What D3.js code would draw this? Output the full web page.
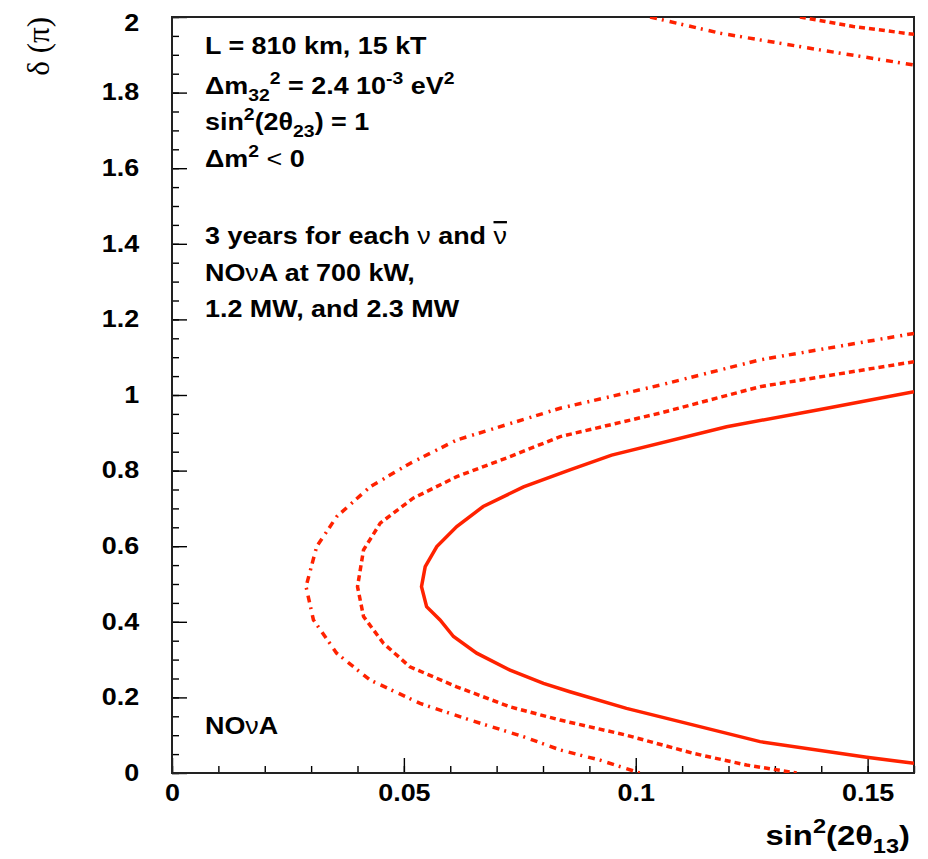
<!DOCTYPE html>
<html>
<head>
<meta charset="utf-8">
<script src="https://cdn.jsdelivr.net/npm/d3@7"></script>
<style>
  body { margin: 0; background: #fff; }
  text { font-family: 'Liberation Sans', Arial, sans-serif; font-weight: bold; fill: #000; }
</style>
</head>
<body>
<script>
//////////////////////////////////////////////////////////////////////////////
// Data: sin^2(2theta13) vs delta (in units of pi)
//////////////////////////////////////////////////////////////////////////////
let xTicks = [0, 0.05, 0.1, 0.15]
let xTickLabels = ['0', '0.05', '0.1', '0.15']
let yTicks = [0, 0.2, 0.4, 0.6, 0.8, 1, 1.2, 1.4, 1.6, 1.8, 2]
let yTickLabels = ['0', '0.2', '0.4', '0.6', '0.8', '1', '1.2', '1.4', '1.6', '1.8', '2']

// 700 kW contour (solid)
let curve700kW = [
  [0.16, 1.009], [0.1412, 0.965], [0.1196, 0.916], [0.0948, 0.841], [0.0858, 0.802],
  [0.0758, 0.757], [0.0671, 0.705], [0.0614, 0.652], [0.0571, 0.599], [0.0546, 0.546],
  [0.0538, 0.493], [0.0549, 0.44], [0.0578, 0.405], [0.0607, 0.361], [0.0657, 0.317],
  [0.0729, 0.272], [0.0801, 0.237], [0.0858, 0.215], [0.098, 0.171], [0.1095, 0.136],
  [0.1268, 0.083], [0.1498, 0.0415], [0.16, 0.0256]
]
// 1.2 MW contour (dashed), plus the piece that wraps round at delta = 2
let curve1200kW = [
  [0.16, 1.088], [0.1268, 1.022], [0.1052, 0.952], [0.0837, 0.89], [0.0729, 0.837],
  [0.0614, 0.784], [0.052, 0.727], [0.0449, 0.661], [0.0413, 0.59], [0.04, 0.493],
  [0.0413, 0.414], [0.0456, 0.343], [0.0513, 0.281], [0.0614, 0.228], [0.0729, 0.175],
  [0.0837, 0.14], [0.098, 0.1], [0.1124, 0.052], [0.1239, 0.021], [0.1347, 0]
]
let curve1200kWTop = [[0.1354, 2], [0.1469, 1.975], [0.16, 1.954]]
// 2.3 MW contour (dash-dot), plus the wrapped piece
let curve2300kW = [
  [0.16, 1.163], [0.1268, 1.093], [0.1052, 1.026], [0.0837, 0.965], [0.0614, 0.881],
  [0.0513, 0.819], [0.0427, 0.757], [0.0355, 0.678], [0.0312, 0.599], [0.0289, 0.493],
  [0.0305, 0.405], [0.0355, 0.317], [0.0427, 0.246], [0.0535, 0.184], [0.0643, 0.14],
  [0.0758, 0.096], [0.0837, 0.061], [0.0923, 0.034], [0.1009, 0]
]
let curve2300kWTop = [[0.1031, 2], [0.1182, 1.957], [0.1397, 1.913], [0.16, 1.873]]

// text block, each line is a list of [text, 'sup' | 'sub' | 'sym' | 'bar' | '']
let infoLines = [
  [['L = 810 km, 15 kT', '']],
  [['Δm', ''], ['32', 'sub'], ['2', 'sup'], [' = 2.4 10', ''], ['-3', 'sup'], [' eV', ''], ['2', 'sup']],
  [['sin', ''], ['2', 'sup'], ['(2θ', ''], ['23', 'sub'], [') = 1', '']],
  [['Δm', ''], ['2', 'sup'], [' ', ''], ['<', 'sym'], [' 0', '']],
  [],
  [['3 years for each ', ''], ['ν', 'sym'], [' and ', ''], ['ν', 'bar']],
  [['NO', ''], ['ν', 'sym'], ['A at 700 kW,', '']],
  [['1.2 MW, and 2.3 MW', '']]
]
let infoBaselines = [54, 94, 130, 167, 205, 244, 281, 317]

//////////////////////////////////////////////////////////////////////////////
// Layout
//////////////////////////////////////////////////////////////////////////////
let width = 928
let height = 859
let plotLeft = 172
let plotRight = 914
let plotTop = 17
let plotBottom = 773
let stretch = 1.17 // the fonts in the picture are drawn a bit wide
let fontSize = 23
let red = '#ff2200'

let svg = d3
  .select('body')
  .append('svg')
  .attr('width', width)
  .attr('height', height)

let x = d3.scaleLinear().domain([0, 0.16]).range([plotLeft, plotRight])
let y = d3.scaleLinear().domain([0, 2]).range([plotBottom, plotTop])

// minor ticks first, then major ones with labels (ticks point inward)
svg
  .append('g')
  .attr('transform', `translate(0,${plotBottom})`)
  .call(d3.axisBottom(x).tickValues(d3.range(0, 0.161, 0.01)).tickSize(-7).tickFormat(''))
svg
  .append('g')
  .attr('transform', `translate(${plotLeft},0)`)
  .call(d3.axisLeft(y).tickValues(d3.range(0, 2.01, 0.05)).tickSize(-7).tickFormat(''))

let xAxis = svg
  .append('g')
  .attr('class', 'xaxis')
  .attr('transform', `translate(0,${plotBottom})`)
  .call(d3.axisBottom(x).tickValues(xTicks).tickSize(-15).tickPadding(12).tickFormat((d, i) => xTickLabels[i]))
let yAxis = svg
  .append('g')
  .attr('class', 'yaxis')
  .attr('transform', `translate(${plotLeft},0)`)
  .call(d3.axisLeft(y).tickValues(yTicks).tickSize(-15).tickPadding(28).tickFormat((d, i) => yTickLabels[i]))

svg.selectAll('.domain').remove()
svg.selectAll('.tick line').attr('stroke', '#000').attr('stroke-width', 1.4)
svg
  .selectAll('.xaxis text, .yaxis text')
  .style('font-size', fontSize + 'px')
  .style('font-family', "'Liberation Sans', Arial, sans-serif")
  .style('font-weight', 'bold')
  .attr('transform', `scale(${stretch},1)`)
// the top label sits a little lower in the picture
yAxis.selectAll('.tick text').filter(d => d === 2).attr('dy', '0.6em')

// frame
svg
  .append('rect')
  .attr('x', plotLeft)
  .attr('y', plotTop)
  .attr('width', plotRight - plotLeft)
  .attr('height', plotBottom - plotTop)
  .attr('fill', 'none')
  .attr('stroke', '#222')
  .attr('stroke-width', 2)

// contours, clipped to the frame
svg
  .append('clipPath')
  .attr('id', 'plot-clip')
  .append('rect')
  .attr('x', plotLeft)
  .attr('y', plotTop)
  .attr('width', plotRight - plotLeft)
  .attr('height', plotBottom - plotTop)

let line = d3
  .line()
  .x(d => x(d[0]))
  .y(d => y(d[1]))

let curves = [
  { pts: curve700kW, dash: null },
  { pts: curve1200kW, dash: '6,4' },
  { pts: curve1200kWTop, dash: '6,4' },
  { pts: curve2300kW, dash: '7,5,2,6' },
  { pts: curve2300kWTop, dash: '7,5,2,6' }
]
svg
  .append('g')
  .attr('clip-path', 'url(#plot-clip)')
  .selectAll('path')
  .data(curves)
  .join('path')
  .attr('d', d => line(d.pts))
  .attr('fill', 'none')
  .attr('stroke', red)
  .attr('stroke-width', 3.5)
  .attr('stroke-dasharray', d => d.dash)

//////////////////////////////////////////////////////////////////////////////
// Text with super/subscripts
function richText (parts, tx, ty, size, anchor) {
  let t = svg
    .append('text')
    .attr('transform', `translate(${tx},${ty}) scale(${stretch},1)`)
    .attr('text-anchor', anchor || 'start')
    .style('font-size', size + 'px')
  let cur = 0
  parts.forEach(p => {
    let shift = p[1] === 'sup' ? -0.42 * size : p[1] === 'sub' ? 0.3 * size : 0
    let ts = t
      .append('tspan')
      .attr('dy', shift - cur)
      .style('font-size', (p[1] === 'sup' || p[1] === 'sub' ? 0.72 * size : size) + 'px')
      .text(p[0])
    if (p[1] === 'sym' || p[1] === 'bar') ts.style('font-weight', 'normal')
    if (p[1] === 'bar') ts.style('text-decoration', 'overline')
    cur = shift
  })
  return t
}

infoLines.forEach((parts, i) => richText(parts, 205, infoBaselines[i], fontSize))
richText([['NO', ''], ['ν', 'sym'], ['A', '']], 205, 734, fontSize)

// axis titles
richText([['sin', ''], ['2', 'sup'], ['(2θ', ''], ['13', 'sub'], [')', '']], 910, 845, 28, 'end')

svg
  .append('text')
  .attr('transform', 'translate(49,17) rotate(-90)')
  .attr('text-anchor', 'end')
  .style('font-family', "'Liberation Serif', serif")
  .style('font-weight', 'normal')
  .style('font-size', '31px')
  .text('δ (π)')
</script>
</body>
</html>
